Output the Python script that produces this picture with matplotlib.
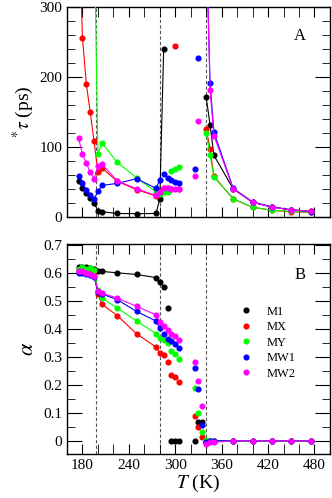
import numpy as np
import matplotlib
matplotlib.use("Agg")
import matplotlib.pyplot as plt
from matplotlib.lines import Line2D
from matplotlib.ticker import MultipleLocator

plt.rcParams['font.family'] = ['Liberation Serif', 'DejaVu Serif']
plt.rcParams['mathtext.fontset'] = 'stix'

nan = np.nan

# temperatures (K)
T = [175, 180, 185, 190, 195, 200, 205, 225, 250, 275, 280, 285, 290, 295, 300, 305,
     325, 330, 335, 340, 345, 350, 375, 400, 425, 450, 475]

# tau* (ps); values far above 300 are off the scale in the figure
tau_m1 = [52, 42, 34, 27, 20, 9, 7.5, 5, 4.7, 5, 25.6, 240, nan, nan, nan, nan,
          nan, nan, nan, 171, 131.5, 88, 40, 21, 14, 10.4, 8]
tau_mx = [425, 256, 190, 150, 108, 64, 70, 51, 39, 30, 37, 42, 42, 40, 244, 40,
          nan, nan, nan, 126, 97, 58, 25.6, 14, 9.5, 7.5, 6.6]
tau_my = [2000, 2000, 2000, 2000, 420, 90, 106, 78, 56, 36, 33, 35, 35, 66, 68.4, 70.7,
          nan, nan, nan, 120, 88, 57, 26, 14, 9.5, 8, 6.8]
tau_mw1 = [58.8, 48, 39, 31.8, 26, 36.5, 45, 48, 54.6, 41, 52.7, 61, 55.5, 53, 50, 48.4,
           68, 226.5, nan, 400, 191, 121, 40.7, 21.5, 14.6, 10, 7.8]
tau_mw2 = [112.5, 89.7, 77, 64, 54.6, 73, 75.5, 51.7, 40.3, 30.8, 36, 41, 41, 40, 40, 40,
           58.4, 137, nan, 400, 181, 116, 40, 21, 14, 10, 8]

# stretching exponent alpha
a_m1 = [0.620, 0.622, 0.620, 0.617, 0.615, 0.608, 0.605, 0.600, 0.594, 0.583, 0.568, 0.549,
        0.474, 0, 0, 0, 0, 0.066, 0.066, -0.005, 0, 0, 0, 0, 0, 0, 0]
a_mx = [0.610, 0.610, 0.607, 0.605, 0.600, 0.525, 0.488, 0.447, 0.382, 0.335, 0.313, 0.305,
        0.283, 0.235, 0.227, 0.211, 0.087, 0.051, 0.015, -0.005, 0, 0, 0, 0, 0, 0, 0]
a_my = [0.615, 0.622, 0.615, 0.618, 0.610, 0.539, 0.510, 0.474, 0.428, 0.383, 0.367, 0.359,
        0.349, 0.321, 0.310, 0.293, 0.188, 0.099, 0.033, 0.003, 0, 0, 0, 0, 0, 0, 0]
a_mw1 = [0.600, 0.598, 0.596, 0.593, 0.585, 0.530, 0.525, 0.504, 0.462, 0.428, 0.402, 0.382,
         0.365, 0.355, 0.345, 0.331, 0.260, 0.186, 0.057, -0.005, 0, 0, 0, 0, 0, 0, 0]
a_mw2 = [0.605, 0.605, 0.600, 0.596, 0.590, 0.535, 0.527, 0.510, 0.480, 0.450, 0.426, 0.410,
         0.396, 0.383, 0.375, 0.360, 0.283, 0.212, 0.126, -0.011, -0.005, -0.005, 0, 0, 0, 0, 0]

names = ['M1', 'MX', 'MY', 'MW1', 'MW2']
colors = ['black', 'red', '#00ff00', 'blue', 'magenta']
tau_all = [tau_m1, tau_mx, tau_my, tau_mw1, tau_mw2]
alpha_all = [a_m1, a_mx, a_my, a_mw1, a_mw2]
transitions = [197, 280.5, 340]

T = np.array(T)

fig = plt.figure(figsize=(3.32, 4.98), dpi=100)
ax1 = fig.add_axes([0.2018, 0.5643, 0.792, 0.4217])
ax2 = fig.add_axes([0.2018, 0.0884, 0.792, 0.4217])


def draw(ax, data):
    for i, (vals, c) in enumerate(zip(data, colors)):
        v = np.array(vals, dtype=float)
        end1 = 285 if i == 0 else 280
        low = T <= end1
        high = T >= 340
        ax.plot(T[low], v[low], '-', color=c, lw=0.8, marker='o', ms=3.4, zorder=3)
        ax.plot(T[high], v[high], '-', color=c, lw=0.8, marker='o', ms=3.4, zorder=3)
        mid = ~(low | high)
        ax.plot(T[mid], v[mid], 'o', color=c, ms=3.4, zorder=3)
    for x in transitions:
        ax.axvline(x, color='#555555', ls='--', lw=0.8, dashes=(3, 2), zorder=1)
    ax.set_xlim(160, 500)
    ax.xaxis.set_major_locator(MultipleLocator(60))
    ax.xaxis.set_minor_locator(MultipleLocator(20))
    ax.tick_params(which='both', direction='in', top=True, right=True, labelsize=11)
    ax.tick_params(axis='x', which='both', length=7)
    ax.tick_params(axis='y', which='major', length=11)
    ax.tick_params(axis='y', which='minor', length=6)
    for s in ax.spines.values():
        s.set_linewidth(1.0)


draw(ax1, tau_all)
ax1.set_ylim(0, 300)
ax1.yaxis.set_major_locator(MultipleLocator(100))
ax1.yaxis.set_minor_locator(MultipleLocator(20))
ax1.tick_params(axis='x', labelbottom=False)
ax1.set_ylabel(r'${}^{*}\tau$ (ps)', fontsize=14, labelpad=2)
ax1.text(0.885, 0.845, 'A', transform=ax1.transAxes, fontsize=12, ha='center')

draw(ax2, alpha_all)
ax2.set_ylim(-0.047, 0.703)
ax2.yaxis.set_major_locator(MultipleLocator(0.1))
ax2.yaxis.set_minor_locator(MultipleLocator(0.05))
ax2.set_yticks([0, 0.1, 0.2, 0.3, 0.4, 0.5, 0.6, 0.7])
ax2.set_yticklabels(['0', '0.1', '0.2', '0.3', '0.4', '0.5', '0.6', '0.7'])
ax2.set_ylabel(r'$\alpha$', fontsize=16, labelpad=4)
ax2.set_xlabel(r'$T$ (K)', fontsize=14, labelpad=1)
ax2.text(0.885, 0.835, 'B', transform=ax2.transAxes, fontsize=12, ha='center')

handles = [Line2D([], [], ls='none', marker='o', color=c, ms=3.4) for c in colors]
ax2.legend(handles, names, loc='upper left', bbox_to_anchor=(0.615, 0.76),
           frameon=False, fontsize=9, handlelength=1.0, handletextpad=1.1,
           labelspacing=0.28)

fig.savefig('out.png', dpi=100)
